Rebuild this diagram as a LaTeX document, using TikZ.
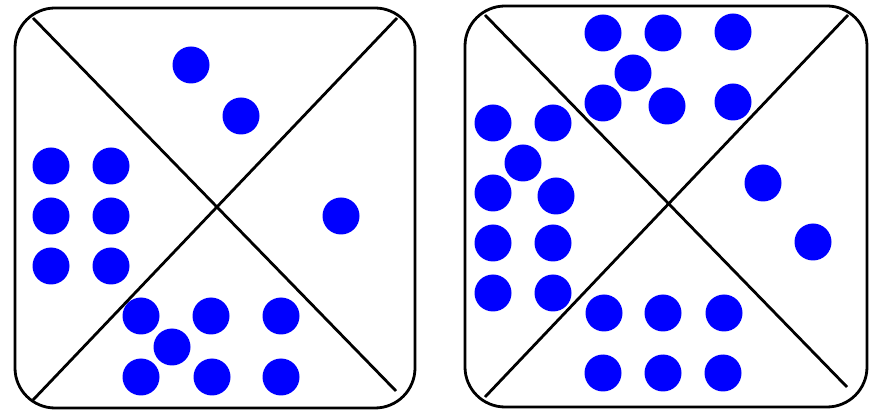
\documentclass[tikz,border=0pt]{standalone}
\begin{document}
\begin{tikzpicture}[x=1pt,y=-1pt,
  frame/.style={draw=black,line width=2.8pt,rounded corners=40pt},
  diag/.style={draw=black,line width=2.8pt},
  dot/.style={fill={rgb,255:red,0;green,0;blue,255}}]
\useasboundingbox (0,0) rectangle (878,411);
% left square
\draw[frame] (15,8) rectangle (415,408);
\coordinate (a1) at (33,18); \coordinate (a2) at (396,391);
\coordinate (a3) at (397,18); \coordinate (a4) at (33,400);
\draw[diag] (a1) -- (a2);
\draw[diag] (a3) -- (a4);
\foreach \p in {(191,65),(241,116),
  (51,166),(111,166),(51,216),(111,216),(51,266),(111,266),
  (341,216),
  (141,316),(211,316),(281,316),(172,347),(141,377),(212,377),(281,377)}
  \fill[dot] \p circle (18.5);
% right square
\draw[frame] (465,6) rectangle (867,407);
\coordinate (b1) at (485,15); \coordinate (b2) at (847,387);
\coordinate (b3) at (848,15); \coordinate (b4) at (485,397);
\draw[diag] (b1) -- (b2);
\draw[diag] (b3) -- (b4);
\foreach \p in {(603,33),(663,33),(733,32),(633,73),(603,103),(667,106),(733,102),
  (493,123),(553,123),(523,163),(493,193),(556,196),(493,243),(553,243),(493,293),(553,293),
  (763,183),(813,242),
  (604,313),(663,313),(724,313),(603,373),(663,373),(723,373)}
  \fill[dot] \p circle (18.5);
\end{tikzpicture}
\end{document}
